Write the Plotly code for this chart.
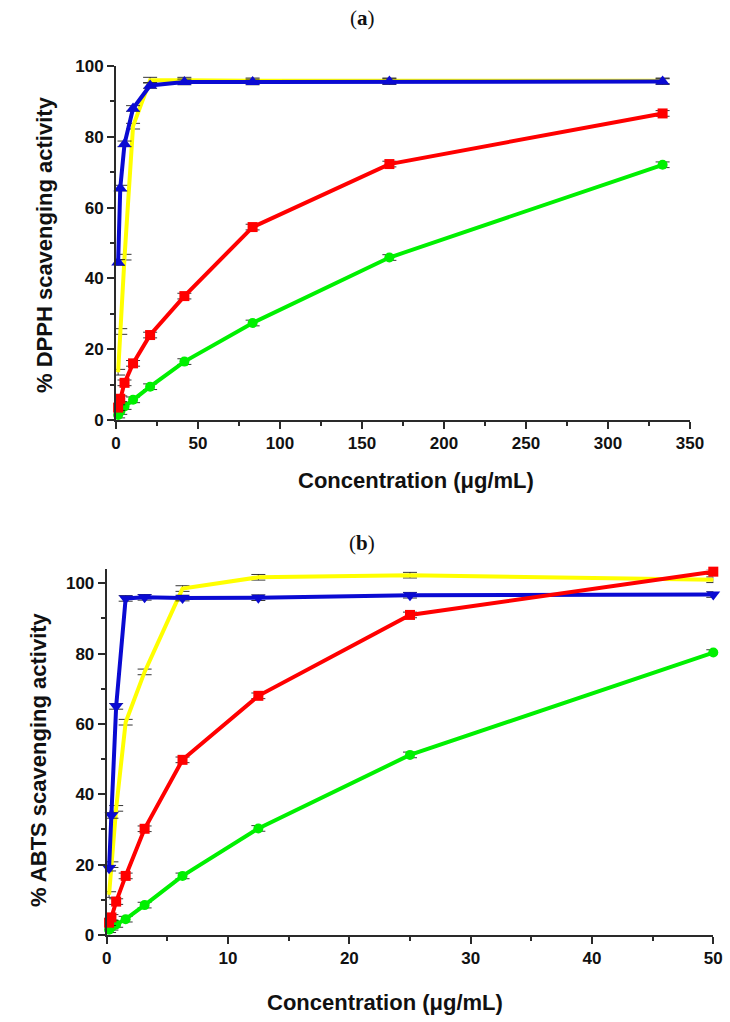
import plotly.graph_objects as go

W, H = 730, 1022

# ---------- (a) DPPH ----------
conc_a = [1.3, 2.6, 5.2, 10.4, 20.8, 41.7, 83.3, 166.7, 333.3]
dpph_red = [3.5, 6.0, 10.5, 16.0, 24.0, 35.0, 54.5, 72.3, 86.6]
dpph_green = [1.4, 2.4, 3.8, 5.7, 9.4, 16.5, 27.4, 45.9, 72.1]
dpph_blue = [44.5, 65.5, 78.0, 88.0, 94.5, 95.5, 95.5, 95.6, 95.6]
dpph_yellow = [13.5, 25.0, 46.0, 83.0, 96.0, 96.0, 95.8, 95.8, 95.8]
err_a = [0.8, 0.8, 0.8, 0.8, 0.8, 0.8, 0.8, 0.8, 0.8]

# ---------- (b) ABTS ----------
conc_b = [0.195, 0.39, 0.78, 1.5625, 3.125, 6.25, 12.5, 25, 50]
abts_red = [3.5, 5.0, 9.5, 16.8, 30.2, 49.8, 68.0, 91.0, 103.3]
abts_green = [1.5, 2.2, 3.0, 4.5, 8.5, 16.8, 30.3, 51.2, 80.3]
abts_blue = [19.0, 34.0, 65.0, 95.7, 96.0, 95.8, 95.9, 96.6, 96.8]
abts_yellow = [11.5, 20.0, 36.0, 60.5, 74.8, 98.5, 101.7, 102.3, 101.0]
err_b = [0.8, 0.8, 0.8, 0.8, 0.8, 0.8, 0.8, 0.8, 0.8]

RED = "#FF0000"
GREEN = "#00F000"
BLUE = "#0A0AD2"
YELLOW = "#FFFF00"
AX = "#2a2a2a"

fig = go.Figure()


def add_series(x, y, err, color, symbol, size, xa, ya, show_marker=True):
    fig.add_trace(go.Scatter(
        x=x, y=y, mode="lines+markers",
        line=dict(color=color, width=4),
        marker=dict(color=color, symbol=symbol, size=size if show_marker else 1),
        error_y=dict(type="data", array=err, color="rgba(20,20,20,0.85)",
                     thickness=1, width=7),
        xaxis=xa, yaxis=ya, cliponaxis=False, showlegend=False,
    ))


# top panel
add_series(conc_a, dpph_green, err_a, GREEN, "circle", 10, "x", "y")
add_series(conc_a, dpph_yellow, err_a, YELLOW, "circle", 1, "x", "y", show_marker=False)
add_series(conc_a, dpph_red, err_a, RED, "square", 10, "x", "y")
add_series(conc_a, dpph_blue, err_a, BLUE, "triangle-up", 12, "x", "y")

# bottom panel
add_series(conc_b, abts_green, err_b, GREEN, "circle", 10, "x2", "y2")
add_series(conc_b, abts_yellow, err_b, YELLOW, "circle", 1, "x2", "y2", show_marker=False)
add_series(conc_b, abts_blue, err_b, BLUE, "triangle-down", 12, "x2", "y2")
add_series(conc_b, abts_red, err_b, RED, "square", 10, "x2", "y2")

tickfont = dict(family="Liberation Sans, Arial", size=17, color="#111", weight="bold")
axis_common = dict(
    showline=True, linecolor=AX, linewidth=2, mirror=False,
    ticks="outside", ticklen=7, tickwidth=2, tickcolor=AX,
    showgrid=False, zeroline=False, tickfont=tickfont, automargin=False,
)
minor = dict(ticks="outside", ticklen=4, tickwidth=2, tickcolor=AX, showgrid=False)

fig.update_layout(
    width=W, height=H,
    margin=dict(l=0, r=0, t=0, b=0),
    paper_bgcolor="white", plot_bgcolor="white",
    hovermode=False,
    xaxis=dict(domain=[116 / W, 690 / W], range=[0, 350], tick0=0, dtick=50,
               anchor="y", minor=dict(dtick=25, **minor), **axis_common),
    yaxis=dict(domain=[1 - 420 / H, 1 - 66 / H], range=[0, 100], tick0=0, dtick=20,
               anchor="x", minor=dict(dtick=10, **minor), **axis_common),
    xaxis2=dict(domain=[106.7 / W, 713.3 / W], range=[0, 50], tick0=0, dtick=10,
                anchor="y2", minor=dict(dtick=5, **minor), **axis_common),
    yaxis2=dict(domain=[1 - 935 / H, 1 - 569.2 / H], range=[0, 104], tick0=0, dtick=20,
                anchor="x2", minor=dict(dtick=10, **minor), **axis_common),
)

title_font = dict(family="Liberation Sans, Arial", size=22, color="#111", weight="bold")
serif_font = dict(family="Liberation Serif, Times New Roman", size=21, color="#111")

annotations = [
    dict(text="(<b>a</b>)", x=362 / W, y=1 - 18 / H, font=serif_font),
    dict(text="(<b>b</b>)", x=362 / W, y=1 - 543 / H, font=serif_font),
    dict(text="Concentration (\u03bcg/mL)", x=416 / W, y=1 - 481 / H, font=title_font),
    dict(text="Concentration (\u03bcg/mL)", x=385 / W, y=1 - 1002 / H, font=title_font),
    dict(text="% DPPH scavenging activity", x=45 / W, y=1 - 245 / H, textangle=-90, font=title_font),
    dict(text="% ABTS scavenging activity", x=38 / W, y=1 - 760 / H, textangle=-90, font=title_font),
]
for a in annotations:
    a.update(xref="paper", yref="paper", showarrow=False, xanchor="center", yanchor="middle")
fig.update_layout(annotations=annotations)

fig.write_html("out.html", config={"displayModeBar": False},
               post_script="document.body.style.margin='0';document.body.style.overflow='hidden';")
